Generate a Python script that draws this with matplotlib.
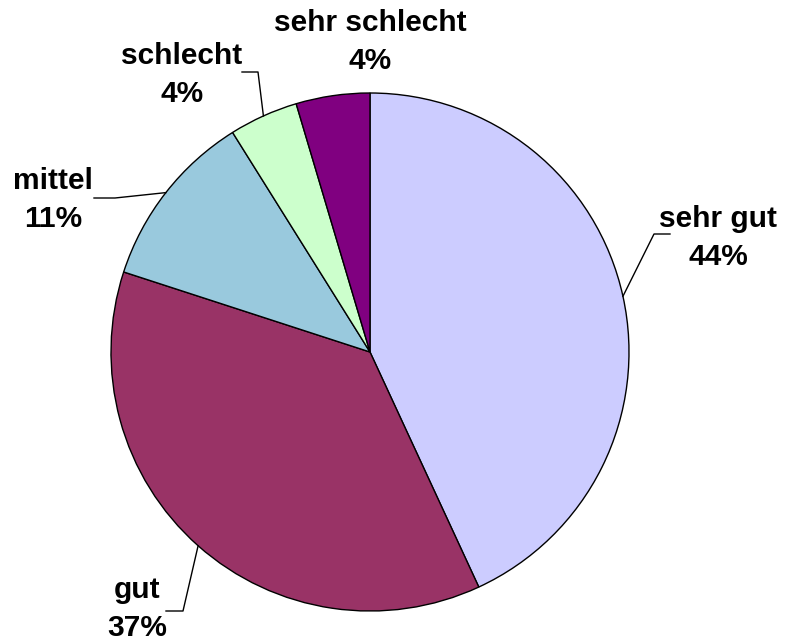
import numpy as np
import matplotlib
matplotlib.use('Agg')
import matplotlib.pyplot as plt

# Data
labels = ['sehr gut', 'gut', 'mittel', 'schlecht', 'sehr schlecht']
shares = [43.1, 36.9, 11.1, 4.3, 4.6]      # slice sizes as drawn
pct_text = [44, 37, 11, 4, 4]              # percentages as printed
colors = ['#CCCCFF', '#993366', '#99C9DD', '#CCFFCC', '#800080']

# Layout (pixel coords, y measured from top)
W, H = 789, 642
cx, cy, r = 370, 352, 259
label_pos = {
    'sehr gut': (718, 238),
    'gut': (137, 609),
    'mittel': (53, 200),
    'schlecht': (182, 75),
    'sehr schlecht': (370, 42),
}
# elbow and end of leader lines (None = no leader)
leaders = {
    'sehr gut': [(654, 234), (670, 234)],
    'gut': [(183, 611), (166, 611)],
    'mittel': [(115, 198), (94, 198)],
    'schlecht': [(258, 72), (242, 72)],
    'sehr schlecht': None,
}

plt.rcParams['font.family'] = ['Liberation Sans', 'DejaVu Sans']

fig = plt.figure(figsize=(W / 100, H / 100), dpi=100)
ax = fig.add_axes([0, 0, 1, 1])
ax.set_aspect('equal')
ax.axis('off')

wedges, _ = ax.pie(shares, colors=colors, startangle=90, counterclock=False,
                   center=(cx, H - cy), radius=r,
                   wedgeprops=dict(edgecolor='black', linewidth=1))
ax.set_xlim(0, W)
ax.set_ylim(0, H)

for w, lab, p in zip(wedges, labels, pct_text):
    tx, ty = label_pos[lab]
    ax.text(tx, H - ty, f'{lab}\n{p}%', ha='center', va='center',
            fontsize=21.5, fontweight='bold', linespacing=1.45)
    if leaders[lab] is not None:
        mid = np.deg2rad((w.theta1 + w.theta2) / 2)
        sx = cx + r * np.cos(mid)
        sy = (H - cy) + r * np.sin(mid)
        xs = [sx] + [q[0] for q in leaders[lab]]
        ys = [sy] + [H - q[1] for q in leaders[lab]]
        ax.plot(xs, ys, color='black', linewidth=1)

fig.savefig('out.png', dpi=100)
